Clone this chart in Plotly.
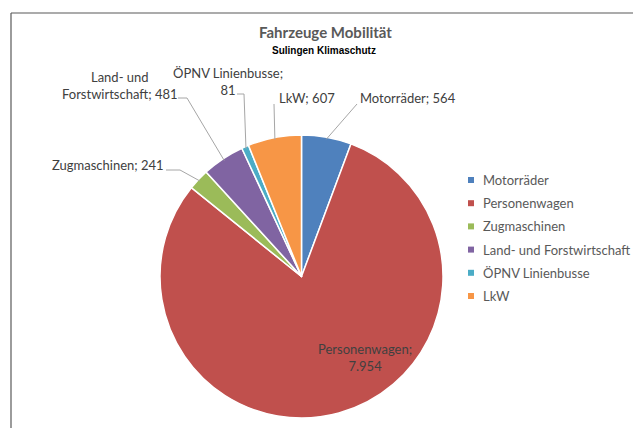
import math
import plotly.graph_objects as go

W, H = 633, 428

categories = ["Motorräder", "Personenwagen", "Zugmaschinen",
              "Land- und Forstwirtschaft", "ÖPNV Linienbusse", "LkW"]
values = [564, 7954, 241, 481, 81, 607]
colors = ["#4F81BD", "#C0504D", "#9BBB59", "#8064A2", "#4BACC6", "#F79646"]

title = "Fahrzeuge Mobilität"
subtitle = "Sulingen Klimaschutz"


def de_num(v):
    return f"{v:,}".replace(",", ".")


def px(x, y):
    """Screen pixel -> paper coordinate."""
    return x / W, 1 - y / H


# pie geometry (pixels)
cx, cy, r = 301.5, 276.5, 141.5
x0, y0 = px(cx - r, cy + r)
x1, y1 = px(cx + r, cy - r)

fig = go.Figure()
fig.add_trace(go.Pie(
    labels=categories, values=values, sort=False, direction="clockwise",
    rotation=0, textinfo="none", hoverinfo="label+value",
    marker=dict(colors=colors, line=dict(color="white", width=1.5)),
    domain=dict(x=[x0, x1], y=[y0, y1]), showlegend=False,
))

total = sum(values)
mids = []
acc = 0
for v in values:
    mids.append((acc + v / 2) / total * 2 * math.pi)
    acc += v


def edge(i, k=1.0):
    a = mids[i]
    return cx + r * k * math.sin(a), cy - r * k * math.cos(a)


annotations = []
shapes = []
lab_col = "#404040"
lab_font = dict(family="Lato, Open Sans, sans-serif", size=13, color=lab_col)

placements = {
    0: dict(x=358, y=98, xanchor="left", lead=[(357, 104)]),
    5: dict(x=277, y=98, xanchor="left", lead=[(274, 104)]),
    4: dict(x=228, y=82, xanchor="center", lead=[(237, 94), (244, 94)],
            br=True),
    3: dict(x=120, y=86, xanchor="center", lead=[(178, 98), (187, 98)],
            br=True),
    2: dict(x=108, y=165, xanchor="center", lead=[(166, 170), (180, 170)]),
}

for i, p in placements.items():
    name = categories[i]
    if p.get("br"):
        if i == 3:
            txt = "Land- und<br>Forstwirtschaft; " + de_num(values[i])
        else:
            txt = name + ";<br>" + de_num(values[i])
    else:
        txt = f"{name}; {de_num(values[i])}"
    ax, ay = px(p["x"], p["y"])
    annotations.append(dict(x=ax, y=ay, xref="paper", yref="paper",
                            text=txt, showarrow=False, xanchor=p["xanchor"],
                            yanchor="middle", align="center", font=lab_font))
    pts = p["lead"] + [edge(i, 0.985)]
    path = "M " + " L ".join(f"{px(a, b)[0]},{px(a, b)[1]}" for a, b in pts)
    shapes.append(dict(type="path", path=path, xref="paper", yref="paper",
                       line=dict(color="#A6A6A6", width=1)))

ax, ay = px(365, 357)
annotations.append(dict(x=ax, y=ay, xref="paper", yref="paper",
                        text=f"{categories[1]};<br>{de_num(values[1])}",
                        showarrow=False, xanchor="center", yanchor="middle",
                        align="center", font=lab_font))

tx, ty = px(326, 32)
annotations.append(dict(x=tx, y=ty, xref="paper", yref="paper", text=f"<b>{title}</b>",
                        showarrow=False, xanchor="center", yanchor="middle",
                        font=dict(family="Lato, Open Sans, sans-serif", size=15,
                                  color="#595959")))
sx, sy = px(324, 51)
annotations.append(dict(x=sx, y=sy, xref="paper", yref="paper", text=f"<b>{subtitle}</b>",
                        showarrow=False, xanchor="center", yanchor="middle",
                        font=dict(family="Liberation Sans, Arial, sans-serif",
                                  size=10, color="#000000")))

for i, (name, col) in enumerate(zip(categories, colors)):
    yy = 180 + 23.2 * i
    a0, b0 = px(468, yy - 3)
    a1, b1 = px(474, yy + 3)
    shapes.append(dict(type="rect", xref="paper", yref="paper",
                       x0=a0, x1=a1, y0=b1, y1=b0, fillcolor=col, line_width=0))
    lx, ly = px(481, yy)
    annotations.append(dict(x=lx, y=ly, xref="paper", yref="paper", text=name,
                            showarrow=False, xanchor="left", yanchor="middle",
                            font=dict(family="Lato, Open Sans, sans-serif", size=13,
                                      color="#595959")))

fx, fy = px(11, 13)
shapes.append(dict(type="line", xref="paper", yref="paper", x0=fx, x1=1.0,
                   y0=fy, y1=fy, line=dict(color="#595959", width=1.2)))
shapes.append(dict(type="line", xref="paper", yref="paper", x0=fx, x1=fx,
                   y0=fy, y1=0.0, line=dict(color="#595959", width=1.2)))

fig.update_layout(
    width=W, height=H, margin=dict(l=0, r=0, t=0, b=0),
    paper_bgcolor="white", plot_bgcolor="white",
    annotations=annotations, shapes=shapes, showlegend=False,
)

fig.write_html(
    "out.html",
    config={"displayModeBar": False},
    post_script="document.body.style.margin='0';"
                "document.body.style.overflow='hidden';",
)
